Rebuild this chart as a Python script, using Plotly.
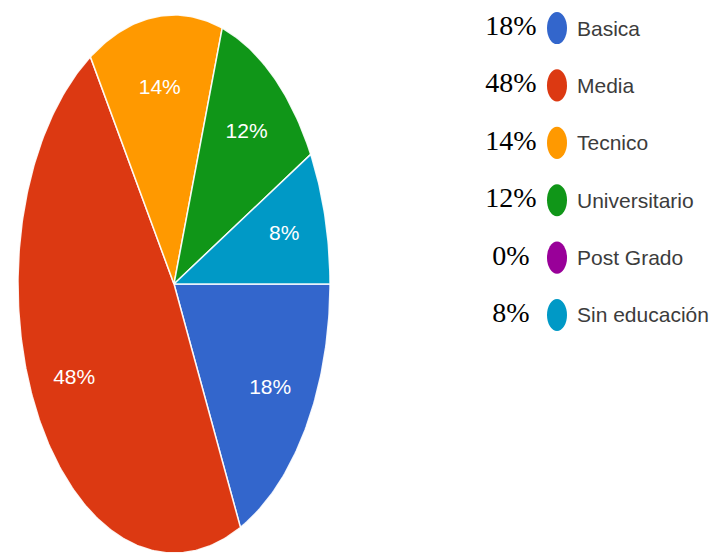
import numpy as np
import plotly.graph_objects as go

categories = ["Basica", "Media", "Tecnico", "Universitario", "Post Grado", "Sin educación"]
values = [18, 48, 14, 12, 0, 8]
pct_labels = ["18%", "48%", "14%", "12%", "0%", "8%"]
colors = ["#3366cc", "#dc3912", "#ff9900", "#109618", "#990099", "#0099c6"]

# the page body has an 8px margin, so the figure is sized to fit the window
W, H = 711, 550

fig = go.Figure()
total = float(sum(values))
start = 0.0
lab_x, lab_y, lab_t = [], [], []
for cat, v, c, lab in zip(categories, values, colors, pct_labels):
    f0 = start / total
    f1 = (start + v) / total
    start += v
    if v == 0:
        continue
    th = np.linspace(f0, f1, max(int(v * 4), 8)) * 2 * np.pi
    xs = np.concatenate([[0.0], np.cos(th), [0.0]])
    ys = np.concatenate([[0.0], -np.sin(th), [0.0]])
    fig.add_trace(go.Scatter(
        x=xs, y=ys, mode="lines", fill="toself", fillcolor=c,
        line=dict(color="rgba(255,255,255,0.9)", width=1.5),
        hoverinfo="skip", showlegend=False, xaxis="x", yaxis="y"))
    mid = (f0 + f1) / 2 * 2 * np.pi
    lab_x.append(0.73 * np.cos(mid))
    lab_y.append(-0.73 * np.sin(mid))
    lab_t.append(lab)

fig.add_trace(go.Scatter(
    x=lab_x, y=lab_y, mode="text", text=lab_t,
    textfont=dict(color="white", size=21, family="Liberation Sans, Arial"),
    hoverinfo="skip", showlegend=False, xaxis="x", yaxis="y"))

# legend block
idx = list(range(len(categories)))
fig.add_trace(go.Scatter(
    x=[511] * len(idx), y=idx, mode="text", text=pct_labels,
    textfont=dict(color="black", size=28, family="Liberation Serif, Times New Roman"),
    hoverinfo="skip", showlegend=False, xaxis="x2", yaxis="y2"))

for i, (cat, c) in enumerate(zip(categories, colors)):
    fig.add_shape(type="circle", xref="x2", yref="y2",
                  x0=547, x1=567, y0=i - 0.28, y1=i + 0.28,
                  fillcolor=c, line=dict(width=0))
    fig.add_annotation(x=575, y=i, xref="x2", yref="y2", text=cat,
                       showarrow=False, xanchor="left", yanchor="middle",
                       font=dict(color="#3c3c3c", size=21, family="Liberation Sans, Arial"))

fig.update_layout(
    width=W, height=H,
    margin=dict(l=0, r=0, t=0, b=0),
    paper_bgcolor="white", plot_bgcolor="white",
    showlegend=False,
    xaxis=dict(domain=[10 / W, 322 / W], range=[-1, 1], visible=False, fixedrange=True),
    yaxis=dict(domain=[1 - 545 / H, 1 - 7 / H], range=[-1, 1], visible=False, fixedrange=True),
    xaxis2=dict(domain=[0.6, 1.0], range=[0.6 * W + 8, W + 8], visible=False, anchor="y2", fixedrange=True),
    yaxis2=dict(domain=[1 - 335.7 / H, 1 - 2.8 / H], range=[5.5, -0.3], visible=False, anchor="x2", fixedrange=True),
)

fig.write_html("out.html")
